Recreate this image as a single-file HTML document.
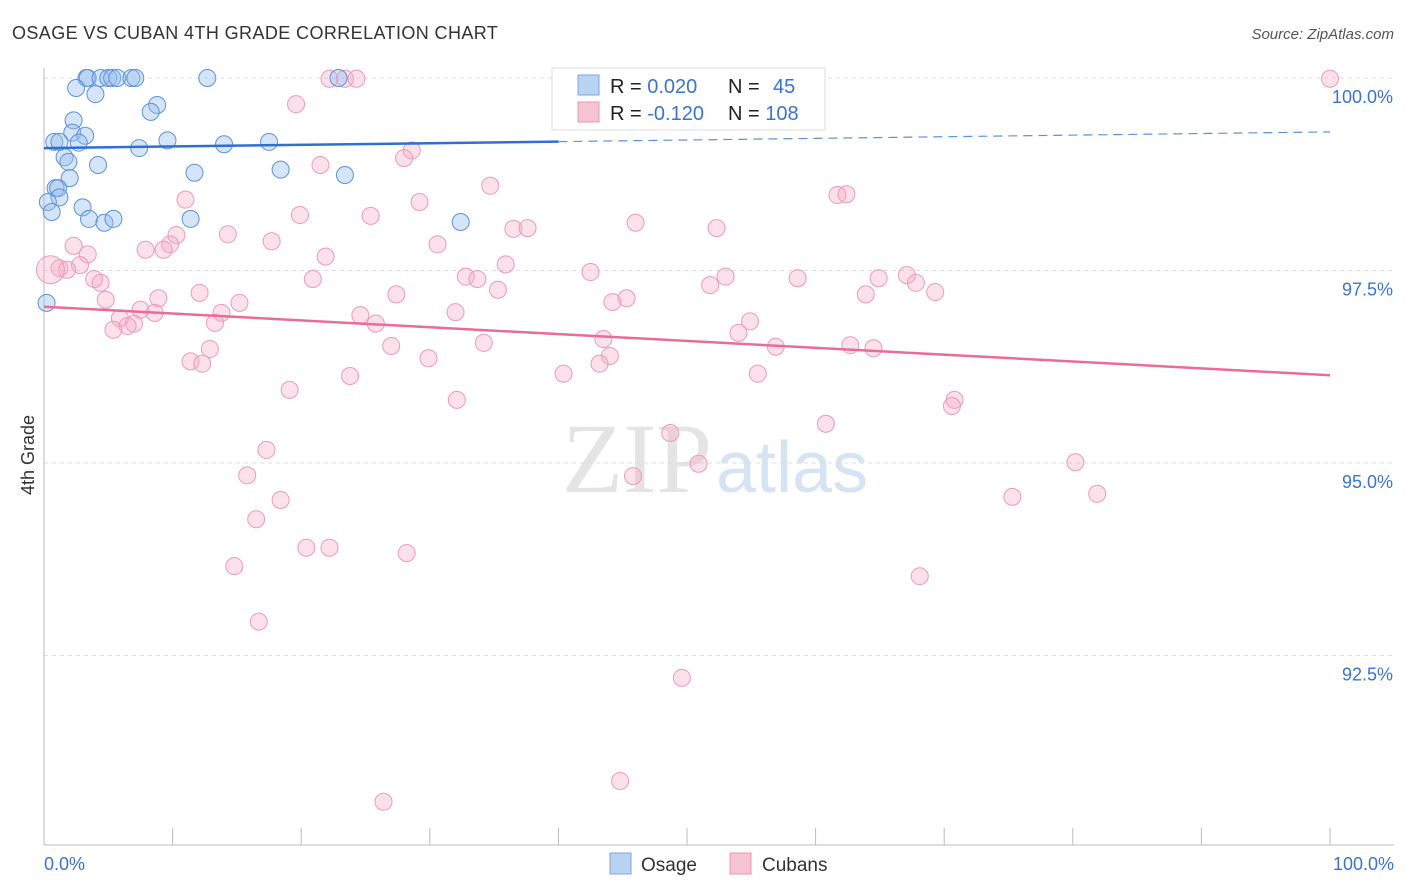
<!DOCTYPE html>
<html><head><meta charset="utf-8"><style>
body{margin:0;background:#fff;width:1406px;height:892px;overflow:hidden;font-family:"Liberation Sans",sans-serif}
svg{position:absolute;left:0;top:0}
</style></head><body>
<svg id="chart" width="1406" height="892">
<text x="12" y="39" font-size="18" fill="#333" letter-spacing="0.4">OSAGE VS CUBAN 4TH GRADE CORRELATION CHART</text>
<text x="1394" y="39" font-size="15" fill="#555" font-style="italic" text-anchor="end">Source: ZipAtlas.com</text>
<text transform="translate(34,455) rotate(-90)" font-size="18" fill="#333" text-anchor="middle">4th Grade</text>
<text x="712" y="492" font-size="100" fill="#e4e4e4" text-anchor="end" font-family="Liberation Serif,serif">ZIP</text>
<text x="716" y="492" font-size="72" fill="#d6e3f3">atlas</text>
<g id="grid"></g><g id="pts"></g><g id="lines"></g>
<g>
<rect x="552" y="68" width="273" height="62" fill="#fff" stroke="#ddd"/>
<rect x="578" y="75" width="21" height="20" fill="#b9d3f3" stroke="#7aa6de"/>
<rect x="578" y="102" width="21" height="20" fill="#f8c3d3" stroke="#eb95b2"/>
<text x="610" y="93" font-size="20" fill="#222">R = <tspan fill="#3a74cf">0.020</tspan></text>
<text x="728" y="93" font-size="20" fill="#222">N = <tspan fill="#3a74cf" x="773">45</tspan></text>
<text x="610" y="120" font-size="20" fill="#222">R = <tspan fill="#3a74cf">-0.120</tspan></text>
<text x="728" y="120" font-size="20" fill="#222">N = <tspan fill="#3a74cf">108</tspan></text>
</g>
<g>
<rect x="610" y="853" width="21" height="21" fill="#b9d3f3" stroke="#7aa6de"/>
<text x="641" y="871" font-size="19" fill="#333">Osage</text>
<rect x="730" y="853" width="21" height="21" fill="#f8c3d3" stroke="#eb95b2"/>
<text x="762" y="871" font-size="19" fill="#333">Cubans</text>
</g>
</svg>
<script>
const yTicks=[100,97.5,95,92.5];
const yTickLabels=["100.0%","97.5%","95.0%","92.5%"];
const xLabels=["0.0%","100.0%"];
const osageX=[3.3,3.4,4.4,5.0,5.3,5.7,6.8,7.1,12.7,22.9,2.5,4.0,8.8,8.3,2.3,2.2,3.2,0.8,1.2,2.7,9.6,14.0,17.5,7.4,1.6,1.9,4.2,11.7,18.4,23.4,2.0,0.9,1.1,1.2,0.3,0.6,3.0,3.5,4.7,5.4,11.4,32.4,0.2];
const osageY=[100,100,100,100,100,100,100,100,100,100,99.87,99.79,99.65,99.56,99.45,99.29,99.25,99.17,99.17,99.16,99.19,99.14,99.17,99.09,98.97,98.91,98.87,98.77,98.81,98.74,98.70,98.57,98.57,98.45,98.39,98.26,98.32,98.17,98.12,98.17,98.17,98.13,97.08];
const cubanX=[22.2,23.4,24.3,100,19.6,28.6,28.0,21.5,34.7,61.7,62.4,11.0,29.2,19.9,25.4,46.0,36.5,37.6,52.3,10.3,14.3,2.3,3.4,9.8,9.3,7.9,17.7,30.6,21.9,2.8,1.2,1.8,0.5,35.9,42.5,32.8,33.7,3.9,4.4,20.9,51.8,53.0,58.6,64.9,67.1,67.8,69.3,63.9,35.3,12.1,27.4,4.8,8.9,15.2,45.3,44.2,32.0,24.6,7.5,8.6,13.8,5.9,7.0,13.3,25.8,54.9,5.4,6.5,54.0,43.5,34.2,27.0,56.9,62.7,64.5,12.9,44.0,29.9,11.4,12.3,43.2,40.4,55.5,23.8,19.1,32.1,70.8,70.6,60.8,48.7,17.3,80.2,50.9,15.8,45.8,75.3,81.9,18.4,16.5,20.4,22.2,28.2,14.8,68.1,16.7,49.6,44.8,26.4];
const cubanY=[99.99,99.99,99.99,99.99,99.66,99.06,98.96,98.87,98.60,98.48,98.49,98.42,98.39,98.22,98.21,98.12,98.04,98.05,98.05,97.96,97.97,97.82,97.71,97.84,97.77,97.77,97.88,97.84,97.68,97.57,97.53,97.51,97.51,97.58,97.48,97.42,97.39,97.39,97.34,97.39,97.31,97.42,97.40,97.40,97.44,97.34,97.22,97.19,97.25,97.21,97.19,97.12,97.14,97.08,97.14,97.09,96.96,96.92,96.99,96.95,96.95,96.88,96.81,96.82,96.81,96.84,96.73,96.78,96.69,96.61,96.56,96.52,96.51,96.53,96.49,96.48,96.39,96.36,96.32,96.29,96.29,96.16,96.16,96.13,95.95,95.82,95.82,95.74,95.51,95.39,95.17,95.01,94.99,94.84,94.83,94.56,94.60,94.52,94.27,93.90,93.90,93.83,93.66,93.53,92.94,92.21,90.87,90.60];
const osageLine=[99.09,99.30];
const cubanLine=[97.03,96.14];
const NS="http://www.w3.org/2000/svg";
const X=v=>44+v*12.86;
const Y=v=>78+(100-v)*77;
function mk(t,a,p){const e=document.createElementNS(NS,t);for(const k in a)e.setAttribute(k,a[k]);p.appendChild(e);return e;}
const grid=document.getElementById('grid'),pts=document.getElementById('pts'),lines=document.getElementById('lines');
yTicks.forEach((t,i)=>{
 const l=mk('line',{x1:44,x2:1394,y1:Y(t),y2:Y(t),stroke:'#ddd','stroke-dasharray':'4,4'},grid);
 
 
 const tx=mk('text',{x:1393,y:Y(t)+25,'font-size':18,fill:'#3a74cf','text-anchor':'end'},grid);
 tx.textContent=yTickLabels[i];
 
 
});
mk('line',{x1:44,x2:44,y1:68,y2:845,stroke:'#bbb'},grid);
mk('line',{x1:44,x2:1394,y1:845,y2:845,stroke:'#bbb'},grid);
for(let i=0;i<=10;i++){const t=mk('line',{x1:X(i*10),x2:X(i*10),y1:828,y2:845,stroke:'#bbb'},grid);}
[[0,'start',44],[100,'end',1394]].forEach((d,i)=>{const t=mk('text',{x:d[2],y:870,'font-size':18,fill:'#3a74cf','text-anchor':d[1]},grid);t.textContent=xLabels[i];});
cubanX.forEach((x,i)=>{const c=mk('circle',{cx:X(x),cy:Y(cubanY[i]),r:(i==32?14:8.5),fill:'rgba(246,170,195,0.35)',stroke:'#ec9bb6','stroke-width':1},pts);
 
 });
osageX.forEach((x,i)=>{const c=mk('circle',{cx:X(x),cy:Y(osageY[i]),r:8.5,fill:'rgba(150,190,240,0.4)',stroke:'#5d92d8','stroke-width':1},pts);
 
 });
const oy=x=>osageLine[0]+(osageLine[1]-osageLine[0])*x/100;
const l1=mk('line',{x1:X(0),y1:Y(oy(0)),x2:X(40),y2:Y(oy(40)),stroke:'#2f6fd0','stroke-width':2.5},lines);


const l2=mk('line',{x1:X(40),y1:Y(oy(40)),x2:X(100),y2:Y(oy(100)),stroke:'#5d92d8','stroke-width':1.2,'stroke-dasharray':'9,6'},lines);


const l3=mk('line',{x1:X(0),y1:Y(cubanLine[0]),x2:X(100),y2:Y(cubanLine[1]),stroke:'#e86c98','stroke-width':2.5},lines);


</script>
</body></html>
